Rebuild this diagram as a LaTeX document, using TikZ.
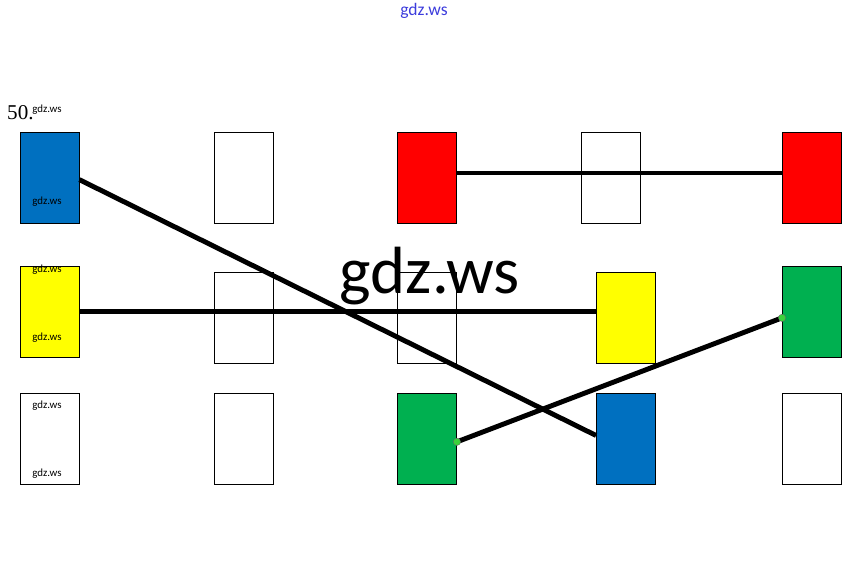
\documentclass[tikz,border=0pt]{standalone}
\usepackage{fontspec}
\setmainfont{Carlito}
\newfontfamily\numfont{Liberation Serif}
\usepackage{tikz}
\definecolor{box_blue}{RGB}{0, 112, 192}
\definecolor{box_red}{RGB}{255, 0, 0}
\definecolor{box_yellow}{RGB}{255, 255, 0}
\definecolor{box_green}{RGB}{0, 176, 80}
\definecolor{dot_green}{RGB}{60, 210, 60}
\definecolor{mark_blue}{RGB}{60, 60, 220}
\tikzstyle{wb}=[rectangle,fill=white,draw=black,line width=0.7pt,
  minimum width=1.77cm,minimum height=2.73cm,inner sep=0pt]
\tikzstyle{bb}=[wb,fill=box_blue]
\tikzstyle{rb}=[wb,fill=box_red]
\tikzstyle{yb}=[wb,fill=box_yellow]
\tikzstyle{gb}=[wb,fill=box_green]
\tikzstyle{link}=[line width=4.2pt,black]
\tikzstyle{pin}=[circle,fill=dot_green,draw=black!60,line width=0.3pt,
  inner sep=0pt,minimum size=0.22cm]
\tikzstyle{wmark}=[inner sep=0pt,font=\fontsize{9.3}{10}\selectfont]

\begin{document}
\begin{tikzpicture}[x=0.03cm,y=-0.03cm]
    \useasboundingbox (0,0) rectangle (850,585);
    % first row
    \node [style=bb] (blue1) at (49.5,178) {};
    \node [style=wb] (w12) at (243.5,178) {};
    \node [style=rb] (red1) at (427,178) {};
    \node [style=wb] (w14) at (610.5,178) {};
    \node [style=rb] (red2) at (812,178) {};
    % second row
    \node [style=yb] (yel1) at (49.5,311.5) {};
    \node [style=wb] (w22) at (243.5,317.5) {};
    \node [style=wb] (w23) at (427,317.5) {};
    \node [style=yb] (yel2) at (626,317.5) {};
    \node [style=gb] (green2) at (812,311.5) {};
    % third row
    \node [style=wb] (w31) at (49.5,438.5) {};
    \node [style=wb] (w32) at (243.5,438.5) {};
    \node [style=gb] (green1) at (427,438.5) {};
    \node [style=bb] (blue2) at (626,438.5) {};
    \node [style=wb] (w35) at (812,438.5) {};
    \draw [style=link] ([yshift=-0.05cm]blue1.east) to ([yshift=0.09cm]blue2.west);
    \draw [style=link] ([yshift=0.15cm]red1.east) to ([yshift=0.15cm]red2.west);
    \draw [style=link] (yel1.east) to (yel1.east -| yel2.west);
    \coordinate (g1) at ([yshift=-0.1cm]green1.east);
    \coordinate (g2) at ([yshift=-0.19cm]green2.west);
    \draw [style=link] (g1) to (g2);
    \node [style=pin] (p1) at (g1) {};
    \node [style=pin] (p2) at (g2) {};
    % labels
    \node [anchor=base west,inner sep=0pt,font=\numfont\fontsize{18}{19}\selectfont] (num) at (7,119) {50.};
    \node [style=wmark] (m0) at (47,110) {gdz.ws};
    \node [style=wmark] (m1) at (47,202) {gdz.ws};
    \node [style=wmark] (m2) at (47,270) {gdz.ws};
    \node [style=wmark] (m3) at (47,338) {gdz.ws};
    \node [style=wmark] (m4) at (47,406) {gdz.ws};
    \node [style=wmark] (m5) at (47,474) {gdz.ws};
    \node [inner sep=0pt,text=mark_blue,font=\fontsize{15}{16}\selectfont] (top) at (424,11) {gdz.ws};
    \node [inner sep=0pt,font=\fontsize{57}{60}\selectfont] (big) at (430,276) {gdz.ws};
  \end{tikzpicture}
\end{document}
